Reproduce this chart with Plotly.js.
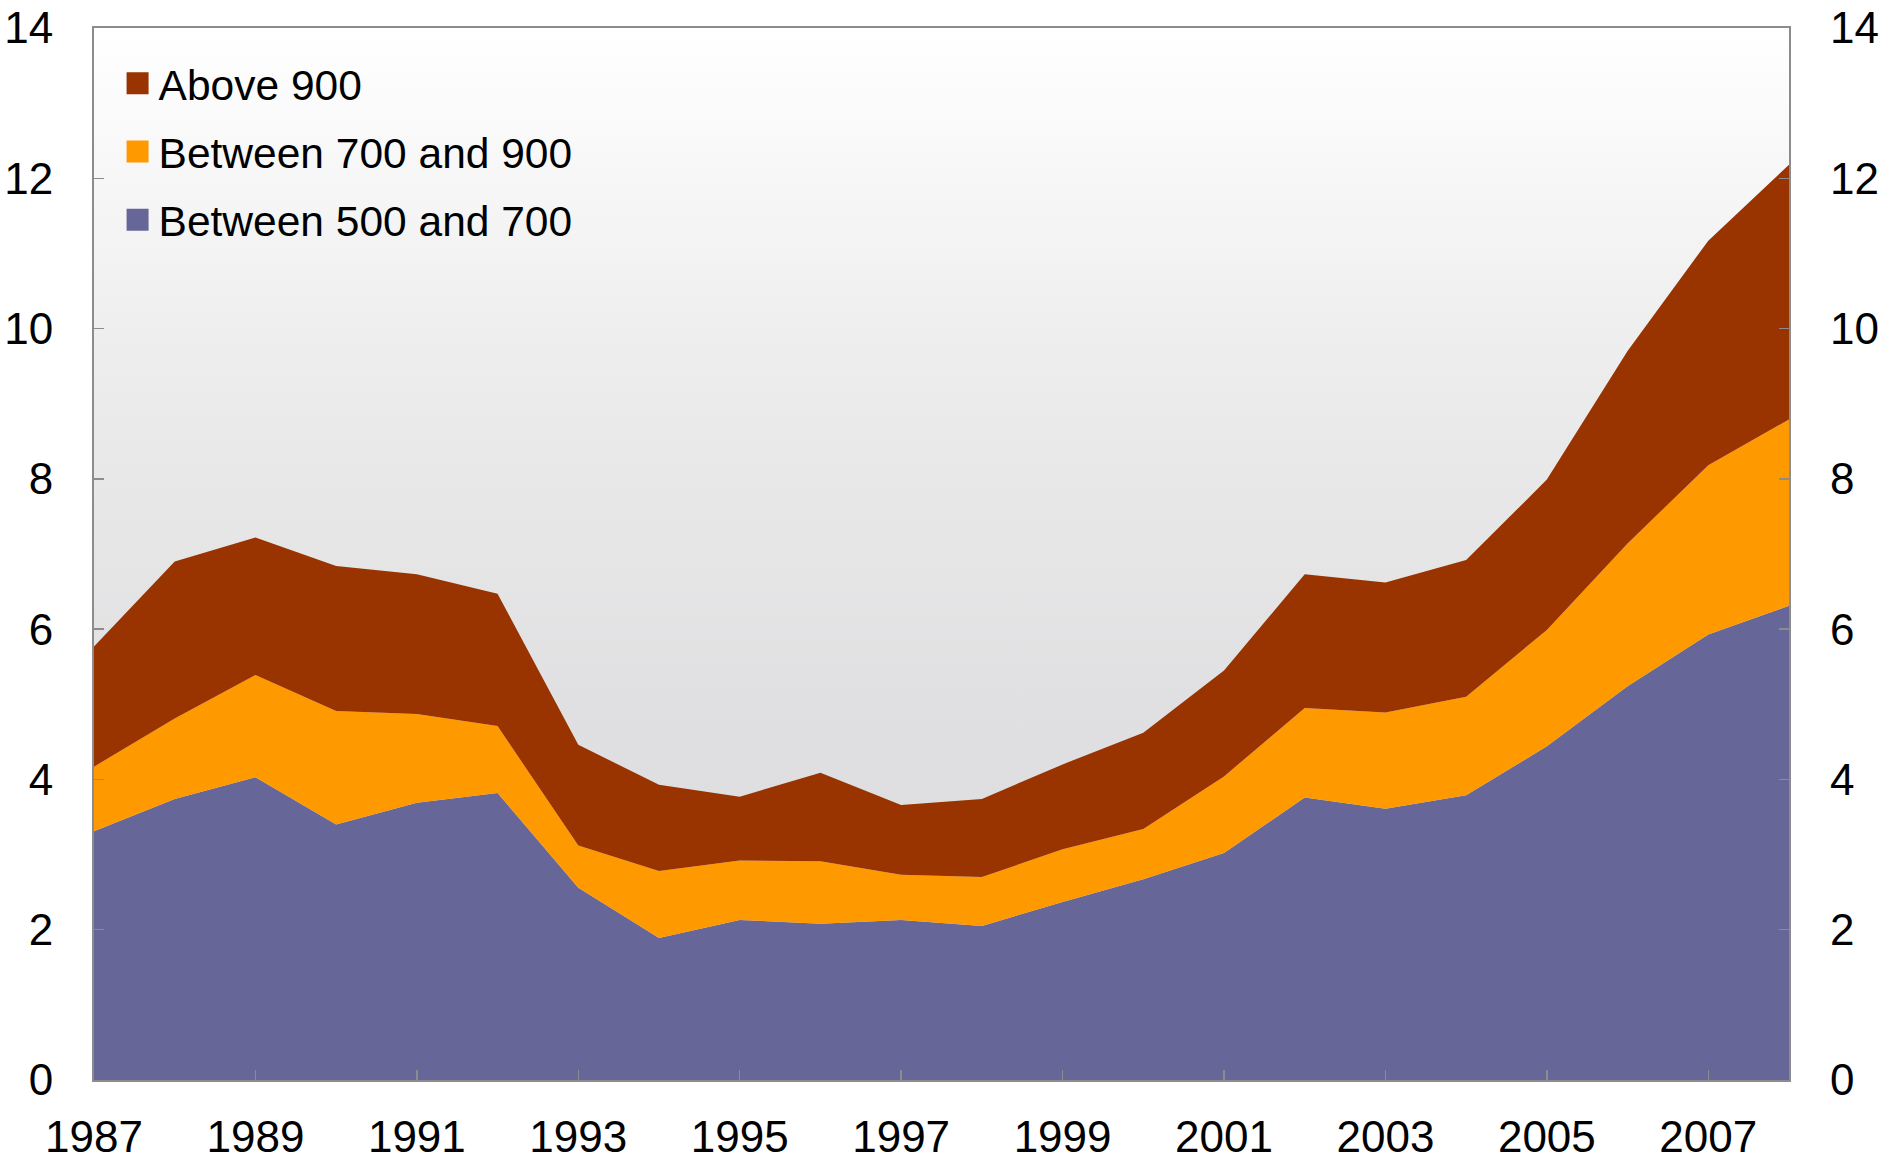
<!DOCTYPE html>
<html>
<head>
<meta charset="utf-8">
<script src="https://cdn.plot.ly/plotly-3.0.1.min.js"></script>
<style>
  html, body { margin: 0; padding: 0; background: #ffffff; }
  #chart { width: 1883px; height: 1160px; }
</style>
</head>
<body>
<div id="chart"></div>
<script>
const years = [1987,1988,1989,1990,1991,1992,1993,1994,1995,1996,1997,1998,1999,2000,2001,2002,2003,2004,2005,2006,2007,2008];

const between500and700 = [3.31,3.74,4.03,3.40,3.69,3.82,2.56,1.89,2.13,2.08,2.13,2.05,2.37,2.67,3.02,3.76,3.61,3.79,4.44,5.24,5.93,6.31];
const between700and900 = [0.86,1.07,1.36,1.51,1.18,0.89,0.56,0.89,0.79,0.83,0.60,0.65,0.70,0.67,1.02,1.19,1.28,1.31,1.55,1.90,2.25,2.48];
const above900 = [1.60,2.09,1.83,1.93,1.86,1.76,1.34,1.15,0.85,1.18,0.93,1.04,1.13,1.28,1.41,1.78,1.73,1.82,2.00,2.56,2.99,3.39];

const seriesNames = ["Between 500 and 700", "Between 700 and 900", "Above 900"];
const seriesColors = ["#666699", "#FF9900", "#993300"];
const xTickVals = [1987,1989,1991,1993,1995,1997,1999,2001,2003,2005,2007];
const yTickVals = [0,2,4,6,8,10,12,14];
const yRange = [0, 14];

const FONT = "'Liberation Sans', Arial, Helvetica, sans-serif";

// background gradient panel (not data) on the left axis
const bg = {
  x: [years[0], years[years.length-1]],
  y: [yRange[1], yRange[1]],
  type: 'scatter', mode: 'none', fill: 'tozeroy',
  fillgradient: {type: 'vertical', start: 0, stop: 14,
    colorscale: [[0, '#dadadd'], [0.35, '#e0e0e2'], [0.65, '#ebebeb'], [1, '#ffffff']]},
  showlegend: false, hoverinfo: 'skip', xaxis: 'x', yaxis: 'y'
};

const bandValues = [between500and700, between700and900, above900];
const traces = bandValues.map((vals, i) => ({
  x: years, y: vals, name: seriesNames[i],
  type: 'scatter', mode: 'lines', stackgroup: 'one',
  line: {width: 0, color: seriesColors[i]},
  fillcolor: seriesColors[i],
  legendgroup: 'g' + i, legendrank: 3 - i,
  xaxis: 'x', yaxis: 'y2'
}));

const axisLine = '#8c8c8c';
const tickFont = {family: FONT, size: 44, color: '#000000'};

const layout = {
  width: 1883, height: 1160,
  paper_bgcolor: '#ffffff', plot_bgcolor: 'rgba(0,0,0,0)',
  margin: {l: 94, r: 94, t: 28, b: 80, pad: 0},
  font: {family: FONT, size: 44, color: '#000000'},
  showlegend: true,
  legend: {
    x: 0.0145, y: 0.98, xanchor: 'left', yanchor: 'top',
    traceorder: 'grouped', tracegroupgap: 10,
    bgcolor: 'rgba(0,0,0,0)', borderwidth: 0,
    font: {family: FONT, size: 42.5, color: '#000000'},
    itemclick: false, itemdoubleclick: false
  },
  xaxis: {
    range: [years[0], years[years.length-1]],
    tickvals: xTickVals, ticktext: xTickVals.map(String),
    ticks: 'inside', ticklen: 10, tickwidth: 1.5, tickcolor: axisLine,
    showline: true, linecolor: axisLine, linewidth: 2, mirror: true,
    showgrid: false, zeroline: false,
    tickfont: tickFont,
    ticklabelstandoff: 17
  },
  yaxis: {
    range: yRange, tickvals: yTickVals,
    ticks: 'inside', ticklen: 10, tickwidth: 1.5, tickcolor: axisLine,
    showline: true, linecolor: axisLine, linewidth: 2, mirror: true,
    showgrid: false, zeroline: false,
    tickfont: tickFont,
    ticklabelstandoff: 30
  },
  yaxis2: {
    range: yRange, tickvals: yTickVals, overlaying: 'y', side: 'right', anchor: 'x',
    ticks: 'inside', ticklen: 10, tickwidth: 1.5, tickcolor: axisLine,
    showline: false, showgrid: false, zeroline: false,
    tickfont: tickFont,
    ticklabelstandoff: 40
  }
};

Plotly.newPlot('chart', [bg].concat(traces), layout, {staticPlot: true, displayModeBar: false}).then(gd => {
  // square legend swatches like the original
  gd.querySelectorAll('.legend .legendfill path').forEach(p => {
    p.setAttribute('d', 'M8,-11h22v22h-22z');
  });
});
</script>
</body>
</html>
